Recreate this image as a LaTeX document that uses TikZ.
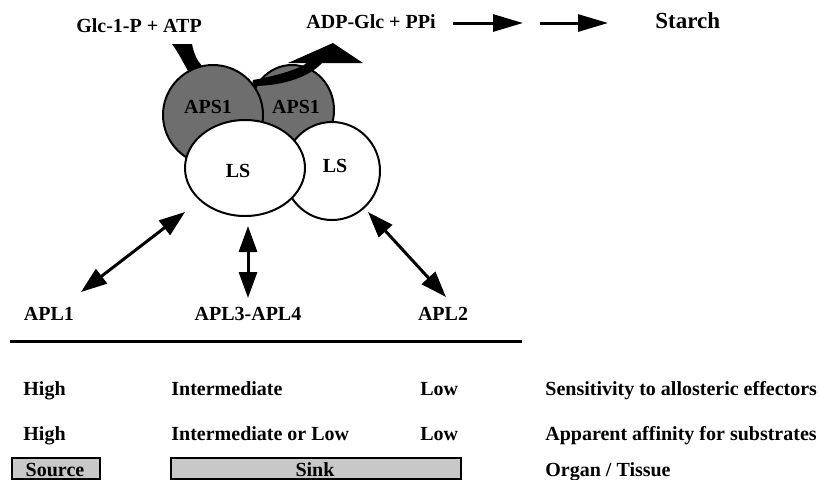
\documentclass[tikz,border=0pt]{standalone}
\usepackage{fontspec}
\setmainfont{Liberation Serif}
\usetikzlibrary{shapes.geometric,arrows.meta}
\definecolor{apsgrey}{HTML}{6E6E6E}
\definecolor{boxgrey}{HTML}{C8C8C8}
\tikzset{
  txt/.style={font=\bfseries\fontsize{10}{12}\selectfont, inner sep=0pt},
  sub/.style={ellipse, draw, line width=1pt, inner sep=0pt},
  aps/.style={sub, fill=apsgrey},
  ls/.style={sub, fill=white},
  dbl/.style={line width=1.5pt, {Triangle[length=13pt,width=9pt]}-{Triangle[length=13pt,width=9pt]}},
  fwd/.style={line width=1.5pt, -{Triangle[length=15pt,width=8.5pt]}},
  tbox/.style={draw, line width=1pt, fill=boxgrey, inner sep=0pt, anchor=north west},
}
\begin{document}
\begin{tikzpicture}[x=0.5pt, y=-0.5pt]
    \useasboundingbox (0,0) rectangle (820,479);
    % reaction
    \node[txt, anchor=base] (glc) at (139,32) {Glc-1-P + ATP};
    \node[txt, anchor=base] (adp) at (371,28) {ADP-Glc + PPi};
    \node[txt, font=\bfseries\fontsize{11.5}{13}\selectfont, anchor=base west] (starch) at (655,28) {Starch};
    \coordinate (r1a) at (453,23);
    \coordinate (r1b) at (523,23);
    \coordinate (r2a) at (540,23);
    \coordinate (r2b) at (608,23);
    \draw[fwd] (r1a) -- (r1b);
    \draw[fwd] (r2a) -- (r2b);
    % enzyme
    \node[aps, minimum width=42pt, minimum height=45pt] (apsR) at (292,110) {};
    \fill (253,80) .. controls (275,76) and (297,70) .. (307,63) -- (288,63) -- (333,43)
        -- (363,63) -- (322,63) .. controls (310,76) and (285,86) .. (252,86) -- cycle;
    \fill (172,44) -- (192,44) .. controls (194,55) and (198,62) .. (204,68)
        -- (188,71) .. controls (183,62) and (178,52) .. (172,44) -- cycle;
    \node[aps, minimum width=50pt, minimum height=50pt] (apsL) at (213,115) {};
    \node[ls, minimum width=48pt, minimum height=49pt] (lsR) at (332,171) {};
    \node[ls, minimum width=60pt, minimum height=48pt] (lsL) at (245,168) {};
    \node[txt, anchor=base] at (208,113) {APS1};
    \node[txt, anchor=base] at (296,113) {APS1};
    \node[txt, anchor=base] at (238,177) {LS};
    \node[txt, anchor=base] at (335,172) {LS};
    % small subunits
    \node[txt, anchor=base] (apl1) at (49,320) {APL1};
    \node[txt, anchor=base] (apl34) at (248,320) {APL3-APL4};
    \node[txt, anchor=base] (apl2) at (443,320) {APL2};
    \coordinate (d1a) at (185,212);
    \coordinate (d1b) at (81,292);
    \coordinate (d2a) at (248,226);
    \coordinate (d2b) at (248,298);
    \coordinate (d3a) at (368,212);
    \coordinate (d3b) at (446,297);
    \draw[dbl] (d1a) -- (d1b);
    \draw[dbl] (d2a) -- (d2b);
    \draw[dbl] (d3a) -- (d3b);
    \draw[line width=1.5pt] (10,341) -- (522,341);
    % properties
    \node[txt, anchor=base west] at (23,395) {High};
    \node[txt, anchor=base west] at (171,395) {Intermediate};
    \node[txt, anchor=base west] at (420,395) {Low};
    \node[txt, anchor=base west] at (545,395) {Sensitivity to allosteric effectors};
    \node[txt, anchor=base west] at (23,440) {High};
    \node[txt, anchor=base west] at (171,440) {Intermediate or Low};
    \node[txt, anchor=base west] at (420,440) {Low};
    \node[txt, anchor=base west] at (545,440) {Apparent affinity for substrates};
    \node[tbox, minimum width=44pt, minimum height=10.5pt] (source) at (11,457) {};
    \node[tbox, minimum width=145pt, minimum height=10.5pt] (sink) at (170,457) {};
    \node[txt, anchor=base] at (55,476) {Source};
    \node[txt, anchor=base] at (315,476) {Sink};
    \node[txt, anchor=base west] at (545,476) {Organ / Tissue};
\end{tikzpicture}
\end{document}
